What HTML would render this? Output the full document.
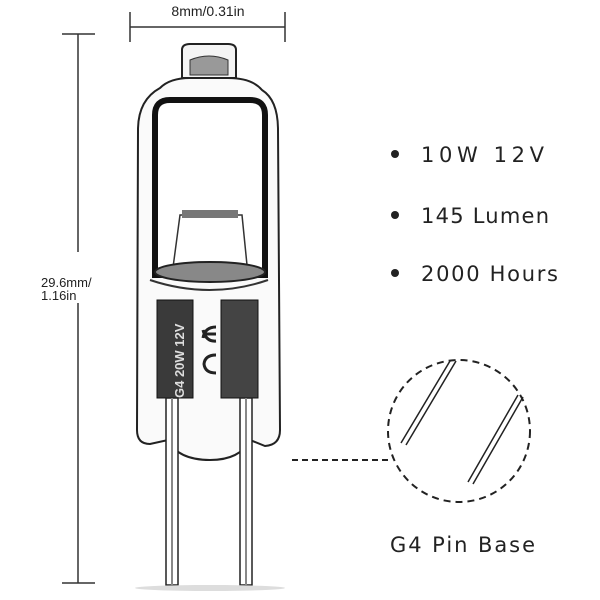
<!DOCTYPE html>
<html><head><meta charset="utf-8"><style>
html,body{margin:0;padding:0;background:#fff;}
svg{display:block}
text{font-family:"Liberation Sans",sans-serif;fill:#222}
.g{font-family:"DejaVu Sans","Liberation Sans",sans-serif;}
</style></head><body>
<svg width="600" height="600" viewBox="0 0 600 600" xmlns="http://www.w3.org/2000/svg">
<rect width="600" height="600" fill="#fff"/>
<!-- top dimension -->
<text x="208" y="16" font-size="14" text-anchor="middle">8mm/0.31in</text>
<line x1="130" y1="27" x2="285" y2="27" stroke="#333" stroke-width="1.5"/>
<line x1="130" y1="12" x2="130" y2="42" stroke="#333" stroke-width="1.5"/>
<line x1="285" y1="12" x2="285" y2="42" stroke="#333" stroke-width="1.5"/>
<!-- vertical dimension -->
<line x1="78" y1="34" x2="78" y2="252" stroke="#333" stroke-width="1.5"/>
<line x1="78" y1="303" x2="78" y2="583" stroke="#333" stroke-width="1.5"/>
<line x1="62" y1="34" x2="95" y2="34" stroke="#333" stroke-width="1.5"/>
<line x1="62" y1="583" x2="95" y2="583" stroke="#333" stroke-width="1.5"/>
<text x="41" y="287" font-size="13">29.6mm/</text>
<text x="41" y="300" font-size="13">1.16in</text>
<!-- bulb -->
<path d="M182,78 L182,50 Q182,44 190,44 L228,44 Q236,44 236,50 L236,78 Z" fill="#f4f4f4" stroke="#222" stroke-width="2"/>
<path d="M190,60 Q209,52 228,60 L228,75 L190,75 Z" fill="#999" stroke="#333" stroke-width="1"/>
<path d="M160,88 Q170,78 190,78 L228,78 Q252,78 262,90 Q278,100 278,130 L280,430 Q280,445 265,446 L250,440 Q240,460 210,460 Q178,460 168,440 L150,444 Q137,444 137,430 L138,130 Q138,100 160,88 Z" fill="#fafafa" stroke="#222" stroke-width="2"/>
<path d="M155,115 Q155,100 170,100 L250,100 Q265,100 265,115 L265,275 L155,275 Z" fill="#fff" stroke="#111" stroke-width="6"/>
<path d="M180,215 L242,215 L248,275 L172,275 Z" fill="none" stroke="#333" stroke-width="1.5"/>
<rect x="182" y="210" width="56" height="8" fill="#777"/>
<ellipse cx="210" cy="272" rx="55" ry="10" fill="#888" stroke="#222" stroke-width="2"/>
<path d="M150,280 Q210,300 268,280" fill="none" stroke="#333" stroke-width="2"/>
<!-- plates -->
<rect x="157" y="300" width="36" height="98" fill="#3a3a3a" stroke="#111"/>
<rect x="221" y="300" width="37" height="98" fill="#444" stroke="#111"/>
<text transform="translate(184,398) rotate(-90)" font-size="13" style="fill:#ddd;font-weight:bold">G4 20W 12V</text>
<path d="M203,338 Q205,327 216,327 M203,334 L216,334 M203,330 Q206,342 216,341" fill="none" stroke="#222" stroke-width="3"/>
<path d="M216,355 Q205,355 204,364 Q205,373 216,373" fill="none" stroke="#222" stroke-width="3"/>
<!-- pins -->
<rect x="166" y="398" width="12" height="187" fill="#fff" stroke="#222" stroke-width="1.5"/>
<line x1="172" y1="398" x2="172" y2="585" stroke="#888" stroke-width="2"/>
<rect x="240" y="398" width="12" height="187" fill="#fff" stroke="#222" stroke-width="1.5"/>
<line x1="246" y1="398" x2="246" y2="585" stroke="#888" stroke-width="2"/>
<ellipse cx="210" cy="588" rx="75" ry="3" fill="#ddd"/>
<!-- bullets -->
<circle cx="395" cy="154" r="4" fill="#222"/>
<circle cx="395" cy="215" r="4" fill="#222"/>
<circle cx="395" cy="273" r="4" fill="#222"/>
<text class="g" x="421" y="162" font-size="21" textLength="123">10W 12V</text>
<text class="g" x="421" y="223" font-size="21" textLength="128">145 Lumen</text>
<text class="g" x="421" y="281" font-size="21" textLength="137">2000 Hours</text>
<!-- detail circle -->
<circle cx="459" cy="431" r="71" fill="none" stroke="#222" stroke-width="2" stroke-dasharray="7,5"/>
<line x1="292" y1="460" x2="389" y2="460" stroke="#222" stroke-width="2" stroke-dasharray="6,4"/>
<line x1="401" y1="443" x2="450" y2="361" stroke="#222" stroke-width="1.5"/>
<line x1="406" y1="445" x2="456" y2="361" stroke="#222" stroke-width="1.5"/>
<line x1="468" y1="482" x2="518" y2="395" stroke="#222" stroke-width="1.5"/>
<line x1="473" y1="484" x2="523" y2="397" stroke="#222" stroke-width="1.5"/>
<text class="g" x="390" y="552" font-size="21" textLength="145">G4 Pin Base</text>
</svg>
</body></html>
